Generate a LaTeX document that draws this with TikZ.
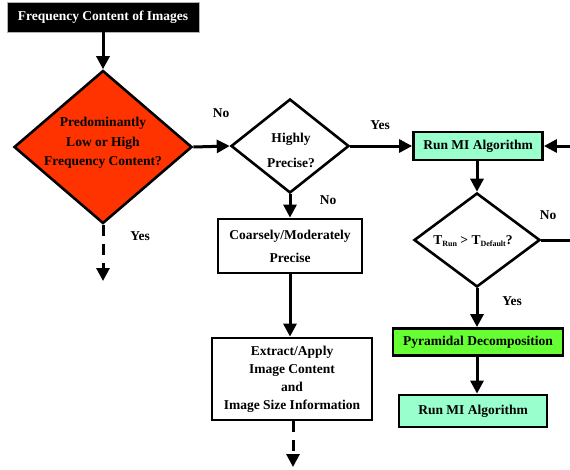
\documentclass[tikz,border=0pt]{standalone}
\usepackage{fontspec}
\setmainfont{Liberation Serif}
\usetikzlibrary{shapes.geometric,arrows.meta}
\definecolor{redorange}{HTML}{FF3300}
\definecolor{mint}{HTML}{99FFCC}
\definecolor{brightgreen}{HTML}{66FF33}
\newcommand{\subt}[1]{\raisebox{-2.5pt}{\fontsize{8}{8}\selectfont #1}}
\begin{document}
\begin{tikzpicture}[x=1pt,y=-1pt,
  txt/.style={font=\fontsize{13.5}{19.5}\selectfont\bfseries, align=center, inner sep=0},
  box/.style={draw, line width=2.8pt, inner sep=0, txt},
  dia/.style={diamond, draw, line width=2.6pt, inner sep=0, aspect=1},
  arr/.style={line width=3pt, -{Triangle[width=13pt,length=13pt]}},
  dasharr/.style={arr, dash pattern=on 11pt off 8pt},
  lbl/.style={txt}
]
\useasboundingbox (0,0) rectangle (570,469);

% top box
\node[fill=black, draw=gray!60, line width=0.8pt, minimum width=192pt, minimum height=30pt,
      txt, text=white] (top) at (103,17) {Frequency Content of Images};

% diamond 1
\node[dia, fill=redorange, minimum width=178pt, minimum height=153pt] (d1) at (103,147) {};
\node[txt] (d1t) at (103,143) {Predominantly\\Low or High\\Frequency Content?};

% diamond 2
\node[dia, fill=white, minimum width=118pt, minimum height=94pt] (d2) at (290,146) {};
\node[txt, font=\fontsize{13.5}{25}\selectfont\bfseries] (d2t) at (291,150) {Highly\\Precise?};

% run MI 1
\node[box, fill=mint, minimum width=129pt, minimum height=28pt] (run1) at (478,146) {Run MI Algorithm};

% diamond 3
\node[dia, fill=white, minimum width=126pt, minimum height=94pt] (d3) at (477,240) {};
\node[txt] (d3t) at (473,241) {T\subt{Run} > T\subt{Default}?};

% coarsely
\node[box, fill=white, minimum width=144pt, minimum height=54pt,
      font=\fontsize{13.5}{23}\selectfont\bfseries] (coarse) at (290,246) {Coarsely/Moderately\\Precise};

% extract
\node[box, fill=white, minimum width=160pt, minimum height=82pt,
      font=\fontsize{13.5}{18}\selectfont\bfseries] (extract) at (292,379) {Extract/Apply\\Image Content\\and\\Image Size Information};

% pyramidal
\node[box, fill=brightgreen, minimum width=170pt, minimum height=27pt] (pyr) at (478,342) {Pyramidal Decomposition};

% run MI 2
\node[box, fill=mint, minimum width=148pt, minimum height=32pt] (run2) at (473,411) {Run MI Algorithm};

% free ends
\coordinate (d1end) at (103,281);
\coordinate (exend) at (293,467);
\coordinate (rin) at (570,146);
\coordinate (rout) at (570,240);

% connectors
\draw[arr] (top) -- (d1);
\draw[dasharr] (d1.south) -- (d1end);
\draw[arr] (d1.east) -- (d2.west);
\draw[arr] (d2.east) -- (run1.west);
\draw[arr] (d2.south) -- (d2.south |- coarse.north);
\draw[arr] (coarse.south -| d2.south) -- (d2.south |- extract.north);
\draw[dasharr] (extract.south -| exend) -- (exend);
\draw[arr] (rin) -- (run1.east);
\draw[arr] (run1.south -| d3.north) -- (d3.north);
\draw[line width=3pt] (d3.east) -- (rout);
\draw[arr] (d3.south) -- (d3.south |- pyr.north);
\draw[arr] (pyr.south -| d3.south) -- (d3.south |- run2.north);

% labels
\node[lbl] (l1) at (140,236) {Yes};
\node[lbl] (l2) at (221,113) {No};
\node[lbl] (l3) at (380,125) {Yes};
\node[lbl] (l4) at (328,200) {No};
\node[lbl] (l5) at (548,215) {No};
\node[lbl] (l6) at (512,301) {Yes};
\end{tikzpicture}
\end{document}
